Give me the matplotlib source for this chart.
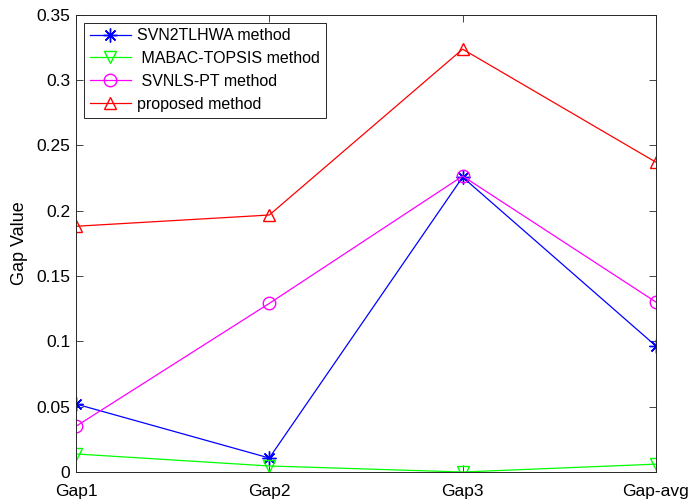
import matplotlib
matplotlib.use("Agg")
import matplotlib.pyplot as plt

categories = ["Gap1", "Gap2", "Gap3", "Gap-avg"]
svn2tlhwa = [0.052, 0.0107, 0.2256, 0.0964]
mabac_topsis = [0.0138, 0.0046, 0.0, 0.006]
svnls_pt = [0.035, 0.129, 0.2264, 0.130]
proposed = [0.188, 0.1966, 0.3235, 0.237]
yticks = [0, 0.05, 0.1, 0.15, 0.2, 0.25, 0.3, 0.35]
ytick_labels = ["0", "0.05", "0.1", "0.15", "0.2", "0.25", "0.3", "0.35"]

plt.rcParams['font.family'] = ['Liberation Sans', 'DejaVu Sans']

fig = plt.figure(figsize=(6.89, 5.04), dpi=100)
ax = fig.add_axes([0.1103, 0.0635, 0.8417, 0.9077])
x = list(range(1, len(categories) + 1))

lw = 0.9
ax.plot(x, svn2tlhwa, color='#0000ff', marker=(8, 2, 0), markersize=10, markeredgewidth=1.0,
        markerfacecolor='none', linewidth=lw, label='SVN2TLHWA method')
ax.plot(x, mabac_topsis, color='#00ff00', marker='v', markersize=9, markeredgewidth=1,
        markerfacecolor='none', linewidth=lw, label=' MABAC-TOPSIS method')
ax.plot(x, svnls_pt, color='#ff00ff', marker='o', markersize=9, markeredgewidth=1,
        markerfacecolor='none', linewidth=lw, label=' SVNLS-PT method')
ax.plot(x, proposed, color='#ff0000', marker='^', markersize=9, markeredgewidth=1,
        markerfacecolor='none', linewidth=lw, label='proposed method')

ax.set_xlim(1, 4)
ax.set_ylim(0, 0.35)
ax.set_xticks(x)
ax.set_xticklabels(categories)
ax.set_yticks(yticks)
ax.set_yticklabels(ytick_labels)
ax.tick_params(direction='in', top=True, right=True, labelsize=12.5, length=5, width=0.6,
               colors='#262626', labelcolor='black')
ax.tick_params(axis='x', pad=9)
ax.tick_params(axis='y', pad=4)
for s in ax.spines.values():
    s.set_linewidth(0.7)
    s.set_color('#262626')
ax.set_ylabel('Gap Value', fontsize=13, labelpad=6)

leg = ax.legend(loc='upper left', bbox_to_anchor=(0.0, 1.0), fontsize=11.5,
                fancybox=False, edgecolor='#262626', framealpha=1,
                handlelength=2.6, borderpad=0.35, labelspacing=0.5, handletextpad=0.4,
                borderaxespad=0.5)
leg.get_frame().set_linewidth(0.7)

fig.savefig('out.png', dpi=100)
